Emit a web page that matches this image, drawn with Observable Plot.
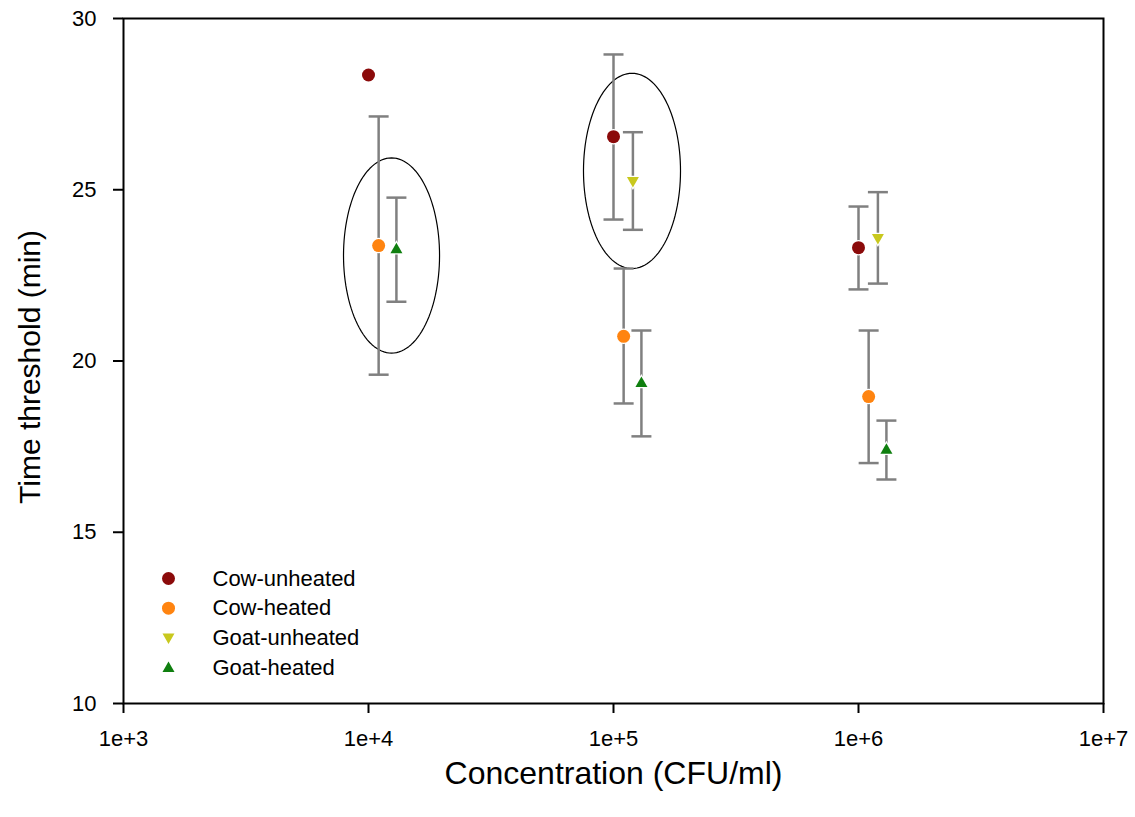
<!DOCTYPE html>
<html>
<head>
<meta charset="utf-8">
<script src="https://cdn.jsdelivr.net/npm/d3@7"></script>
<script src="https://cdn.jsdelivr.net/npm/@observablehq/plot@0.6"></script>
<style>
  html, body { margin: 0; padding: 0; background: #fff; }
  #chart { width: 1135px; height: 817px; }
</style>
</head>
<body>
<div id="chart"></div>
<script>
// ---- data ----
const seriesNames = ["Cow-unheated", "Cow-heated", "Goat-unheated", "Goat-heated"];
const seriesColors = ["#8b0a0a", "#ff8410", "#c8c81e", "#0f7f0f"];

// Cow-unheated
const cowUnheatedX  = [1e4, 1e5, 1e6];
const cowUnheatedY  = [28.35, 26.55, 23.31];
const cowUnheatedLo = [null, 24.13, 22.09];
const cowUnheatedHi = [null, 28.95, 24.51];

// Cow-heated
const cowHeatedX  = [1.1e4, 1.1e5, 1.1e6];
const cowHeatedY  = [23.37, 20.72, 18.96];
const cowHeatedLo = [19.6, 18.76, 17.02];
const cowHeatedHi = [27.14, 22.70, 20.89];

// Goat-unheated
const goatUnheatedX  = [1.2e5, 1.2e6];
const goatUnheatedY  = [25.24, 23.58];
const goatUnheatedLo = [23.83, 22.26];
const goatUnheatedHi = [26.68, 24.93];

// Goat-heated
const goatHeatedX  = [1.3e4, 1.3e5, 1.3e6];
const goatHeatedY  = [23.28, 19.37, 17.42];
const goatHeatedLo = [21.73, 17.80, 16.54];
const goatHeatedHi = [24.77, 20.89, 18.26];

// Ellipse annotations: centre (concentration, minutes), half-width in decades, half-height in minutes
const ellipseCx  = [10 ** 4.094, 10 ** 5.0755];
const ellipseCy  = [23.08, 25.55];
const ellipseRxDecades = [0.196, 0.198];
const ellipseRy  = [2.85, 2.85];

const xTicks = [1e3, 1e4, 1e5, 1e6, 1e7];
const yTicks = [10, 15, 20, 25, 30];
const xLabel = "Concentration (CFU/ml)";
const yLabel = "Time threshold (min)";

// ---- build table ----
function rows(name, X, Y, LO, HI) {
  return X.map((x, i) => ({series: name, x, y: Y[i], lo: LO[i], hi: HI[i]}));
}
const data = [
  ...rows(seriesNames[0], cowUnheatedX, cowUnheatedY, cowUnheatedLo, cowUnheatedHi),
  ...rows(seriesNames[1], cowHeatedX, cowHeatedY, cowHeatedLo, cowHeatedHi),
  ...rows(seriesNames[2], goatUnheatedX, goatUnheatedY, goatUnheatedLo, goatUnheatedHi),
  ...rows(seriesNames[3], goatHeatedX, goatHeatedY, goatHeatedLo, goatHeatedHi)
];
const withErr = data.filter(d => d.lo != null);

// ellipse outlines in (log x, linear y) space
const ellipsePts = [];
ellipseCx.forEach((cx, k) => {
  const lc = Math.log10(cx);
  for (let s = 0; s <= 120; s++) {
    const t = (s / 120) * 2 * Math.PI;
    ellipsePts.push({
      id: k,
      x: 10 ** (lc + ellipseRxDecades[k] * Math.cos(t)),
      y: ellipseCy[k] + ellipseRy[k] * Math.sin(t)
    });
  }
});

// ---- custom symbols ----
const capSymbol = {draw(ctx, size) { const r = Math.sqrt(size / Math.PI); ctx.moveTo(-r, 0); ctx.lineTo(r, 0); }};
const triUp = {draw(ctx, size) { const r = Math.sqrt(size / Math.PI); ctx.moveTo(0, -r); ctx.lineTo(r, r * 0.75); ctx.lineTo(-r, r * 0.75); ctx.closePath(); }};
const triDown = {draw(ctx, size) { const r = Math.sqrt(size / Math.PI); ctx.moveTo(0, r); ctx.lineTo(r, -r * 0.75); ctx.lineTo(-r, -r * 0.75); ctx.closePath(); }};
const symbolOf = {
  [seriesNames[0]]: "circle",
  [seriesNames[1]]: "circle",
  [seriesNames[2]]: triDown,
  [seriesNames[3]]: triUp
};
const radiusOf = {
  [seriesNames[0]]: 6.5,
  [seriesNames[1]]: 6.5,
  [seriesNames[2]]: 6,
  [seriesNames[3]]: 6
};
const colorOf = Object.fromEntries(seriesNames.map((n, i) => [n, seriesColors[i]]));

const pointMarks = seriesNames.map(name => Plot.dot(data.filter(d => d.series === name), {
  x: "x", y: "y", r: radiusOf[name], symbol: symbolOf[name],
  fill: colorOf[name], stroke: "white", strokeWidth: 2.5, paintOrder: "stroke"
}));

const legendMarks = seriesNames.flatMap((name, i) => [
  Plot.dot([name], {frameAnchor: "top-left", dx: 45, dy: 560 + i * 29.7, r: radiusOf[name],
    symbol: symbolOf[name], fill: colorOf[name]}),
  Plot.text([name], {frameAnchor: "top-left", dx: 89, dy: 560 + i * 29.7, text: d => d,
    textAnchor: "start", lineAnchor: "middle", fontSize: 22, fill: "black"})
]);

const chart = Plot.plot({
  width: 1135,
  height: 817,
  marginLeft: 123,
  marginRight: 32,
  marginTop: 18,
  marginBottom: 114,
  style: {fontFamily: "'Liberation Sans', Arial, sans-serif", background: "white", color: "black"},
  x: {type: "log", domain: [1e3, 1e7]},
  y: {domain: [10, 30]},
  marks: [
    Plot.line(ellipsePts, {x: "x", y: "y", z: "id", stroke: "black", strokeWidth: 1.2, curve: "linear"}),
    Plot.ruleX(withErr, {x: "x", y1: "lo", y2: "hi", stroke: "#808080", strokeWidth: 2.5}),
    Plot.dot(withErr, {x: "x", y: "lo", r: 10, symbol: capSymbol, stroke: "#808080", strokeWidth: 2.5, fill: "none"}),
    Plot.dot(withErr, {x: "x", y: "hi", r: 10, symbol: capSymbol, stroke: "#808080", strokeWidth: 2.5, fill: "none"}),
    ...pointMarks,
    ...legendMarks,
    Plot.frame({stroke: "black", strokeWidth: 2}),
    Plot.axisX({ticks: xTicks, tickFormat: d => "1e+" + Math.round(Math.log10(d)), tickSize: 10,
      tickPadding: 17, strokeWidth: 2, label: null}),
    Plot.axisY({ticks: yTicks, tickSize: 10, tickPadding: 17, strokeWidth: 2, label: null}),
    Plot.text([yLabel], {frameAnchor: "left", dx: -93, dy: 6, rotate: -90, textAnchor: "middle",
      lineAnchor: "middle", fontSize: 30, text: d => d, fill: "black"}),
    Plot.text([xLabel], {frameAnchor: "bottom", dy: 70, lineAnchor: "middle", textAnchor: "middle",
      fontSize: 32, text: d => d, fill: "black"})
  ]
});
// enlarge axis tick labels
chart.querySelectorAll('g[aria-label="x-axis tick label"]').forEach(g => {
  g.style.fontSize = "22px";
  g.querySelectorAll("text").forEach(t => t.style.fontSize = "22px");
});
chart.querySelectorAll('g[aria-label="y-axis tick label"]').forEach(g => {
  g.style.fontSize = "22px";
  g.querySelectorAll("text").forEach(t => t.style.fontSize = "22px");
});
document.getElementById("chart").appendChild(chart);
</script>
</body>
</html>
